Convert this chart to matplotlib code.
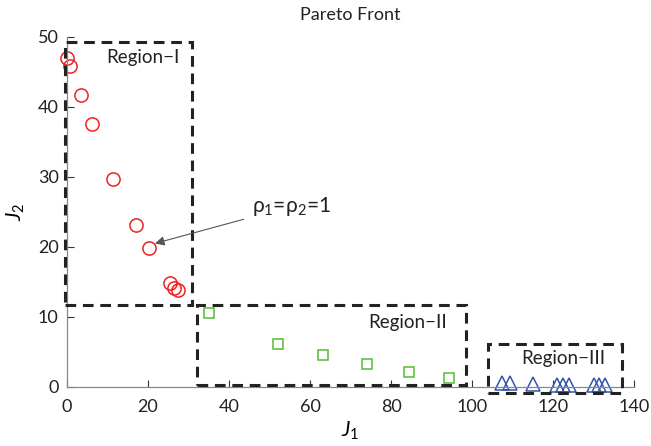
import matplotlib.pyplot as plt
from matplotlib.patches import Rectangle

plt.rcParams['font.family'] = ['Lato', 'DejaVu Sans']
plt.rcParams['mathtext.fontset'] = 'custom'
plt.rcParams['mathtext.it'] = 'Lato:italic'
plt.rcParams['mathtext.rm'] = 'Lato'

# region I (red circles)
j1_r1 = [0.1, 0.8, 3.5, 6.1, 11.4, 17.1, 20.2, 25.5, 26.4, 27.3]
j2_r1 = [47.0, 45.9, 41.7, 37.6, 29.7, 23.1, 19.9, 14.9, 14.1, 13.8]
# region II (green squares)
j1_r2 = [35.1, 52.2, 63.1, 74.0, 84.4, 94.4]
j2_r2 = [10.5, 6.1, 4.5, 3.3, 2.2, 1.3]
# region III (blue triangles)
j1_r3 = [107.3, 109.4, 115.1, 120.9, 122.5, 124.0, 130.0, 131.4, 132.8]
j2_r3 = [0.6, 0.6, 0.4, 0.35, 0.3, 0.3, 0.35, 0.3, 0.3]

# dashed boxes: (x0, y0, x1, y1)
boxes = [(-0.5, 11.7, 30.9, 49.2), (32.2, 0.3, 98.5, 11.7), (103.9, -0.9, 137.1, 6.1)]
box_labels = ["Region\u2212I", "Region\u2212II", "Region\u2212III"]
label_pos = [(18.8, 47.0), (84.2, 9.2), (122.5, 4.0)]

fig = plt.figure(figsize=(6.51, 4.46), dpi=100)
ax = fig.add_axes([0.103, 0.1323, 0.871, 0.785])

ax.plot(j1_r1, j2_r1, 'o', mfc='none', mec='#ee2222', ms=9.5, mew=1.1, clip_on=False)
ax.plot(j1_r2, j2_r2, 's', mfc='none', mec='#55bb33', ms=7.5, mew=1.1, clip_on=False)
ax.plot(j1_r3, j2_r3, '^', mfc='none', mec='#3355aa', ms=10, mew=1.1, clip_on=False)

for (x0, y0, x1, y1), lab, (tx, ty) in zip(boxes, box_labels, label_pos):
    ax.add_patch(Rectangle((x0, y0), x1 - x0, y1 - y0, fill=False, ec='#222222',
                           lw=2.2, ls=(0, (3.5, 2.2)), clip_on=False, zorder=3))
    ax.text(tx, ty, lab, ha='center', va='center', fontsize=13.5, color='#222222')

ax.annotate("\u03c1$_1$=\u03c1$_2$=1", xy=(21.7, 20.5), xytext=(45.6, 25.8),
            fontsize=15, va='center', ha='left', color='#222222',
            arrowprops=dict(arrowstyle='-|>', color='#555555', lw=0.8,
                            shrinkA=4, shrinkB=0, mutation_scale=14))

ax.set_xlim(0, 140)
ax.set_ylim(0, 50)
ax.set_xticks(range(0, 141, 20))
ax.set_yticks(range(0, 51, 10))
ax.tick_params(direction='in', length=5, width=0.8, color='#333333',
               labelsize=13, labelcolor='#222222')
ax.tick_params(axis='x', pad=9)
ax.tick_params(axis='y', pad=6)
for s in ['top', 'right']:
    ax.spines[s].set_visible(False)
for s in ['left', 'bottom']:
    ax.spines[s].set_color('#888888')
    ax.spines[s].set_linewidth(0.9)

ax.set_title("Pareto Front", fontsize=13, color='#222222', pad=12)
ax.set_xlabel("$J_1$", fontsize=15, labelpad=3)
ax.set_ylabel("$J_2$", fontsize=15, labelpad=8)

fig.savefig("out.png", dpi=100)
